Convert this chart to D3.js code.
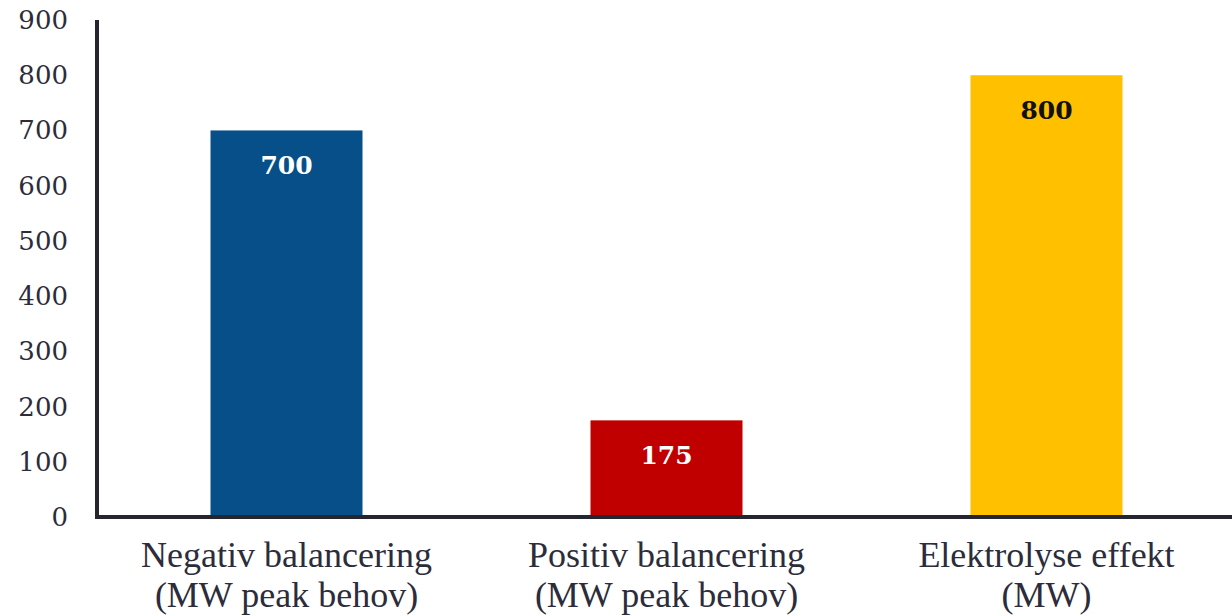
<!DOCTYPE html>
<html>
<head>
<meta charset="utf-8">
<script src="https://cdn.jsdelivr.net/npm/d3@7"></script>
<style>
  body { margin: 0; background: #fff; }
  svg { display: block; }
  .cat { font-family: "Liberation Serif", "Times New Roman", Times, serif; font-size: 36px; }
  .tick, .val { font-family: "DejaVu Serif", Georgia, serif; }
</style>
</head>
<body>
<svg id="chart" width="1232" height="616"></svg>
<script>
// data
var categories = [
  ["Negativ balancering", "(MW peak behov)"],
  ["Positiv balancering", "(MW peak behov)"],
  ["Elektrolyse effekt", "(MW)"]
];
var values = [700, 175, 800];
var barColors = ["#064f89", "#c00000", "#ffc000"];
var labelColors = ["#ffffff", "#ffffff", "#111111"];
var yTicks = [0, 100, 200, 300, 400, 500, 600, 700, 800, 900];

var axisColor = "#25252f",
    textColor = "#2c2c3a";

var svg = d3.select("#chart");

var x = d3.scaleBand()
  .domain(d3.range(categories.length))
  .range([96.5, 1236.5])
  .paddingInner(0.6)
  .paddingOuter(0.3);

var y = d3.scaleLinear()
  .domain([0, 900])
  .range([517, 20]);

// bars
svg.selectAll("rect.bar")
  .data(values)
  .enter().append("rect")
  .attr("class", "bar")
  .attr("x", (d, i) => x(i))
  .attr("width", x.bandwidth())
  .attr("y", d => y(d))
  .attr("height", d => y(0) - y(d))
  .attr("fill", (d, i) => barColors[i]);

// value labels
svg.selectAll("text.val")
  .data(values)
  .enter().append("text")
  .attr("class", "val")
  .attr("x", (d, i) => x(i) + x.bandwidth() / 2)
  .attr("y", d => y(d) + 44)
  .attr("text-anchor", "middle")
  .style("font-weight", "bold")
  .style("font-size", "25px")
  .attr("fill", (d, i) => labelColors[i])
  .text(d => d);

// y tick labels
svg.selectAll("text.tick")
  .data(yTicks)
  .enter().append("text")
  .attr("class", "tick")
  .attr("x", 68)
  .attr("y", d => y(d) + 9)
  .attr("text-anchor", "end")
  .style("font-size", "26px")
  .attr("fill", textColor)
  .text(d => d);

// axes lines
svg.append("line")
  .attr("x1", 97).attr("x2", 97)
  .attr("y1", y(900)).attr("y2", y(0) + 2)
  .attr("stroke", axisColor).attr("stroke-width", 4);

svg.append("line")
  .attr("x1", 95).attr("x2", 1232)
  .attr("y1", y(0)).attr("y2", y(0))
  .attr("stroke", axisColor).attr("stroke-width", 4);

// category labels
var cat = svg.selectAll("text.cat")
  .data(categories)
  .enter().append("text")
  .attr("class", "cat")
  .attr("text-anchor", "middle")
  .attr("fill", textColor);

cat.selectAll("tspan")
  .data((d, i) => d.map(t => ({t: t, i: i})))
  .enter().append("tspan")
  .attr("x", d => x(d.i) + x.bandwidth() / 2)
  .attr("y", (d, j) => 567 + j * 40)
  .text(d => d.t);
</script>
</body>
</html>
